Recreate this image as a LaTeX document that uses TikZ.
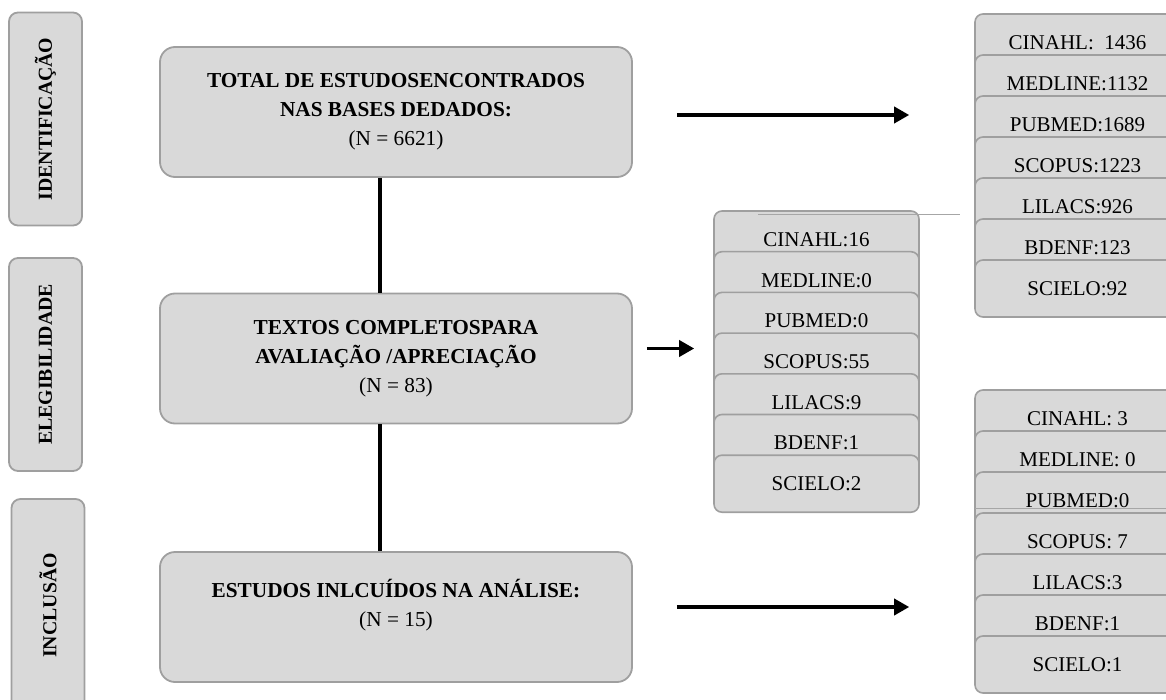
\documentclass[tikz,border=0pt]{standalone}
\usepackage{fontspec}
\setmainfont{Liberation Serif}
\usetikzlibrary{arrows.meta,positioning}

\begin{document}
\begin{tikzpicture}[x=1pt,y=-1pt]
      \tikzstyle{fase}=[rectangle,rounded corners=9pt,draw=gray!75,fill=gray!30,line width=1.8pt,
        minimum width=213pt,minimum height=73pt,rotate=90,font=\fontsize{19.8}{24}\selectfont\bfseries]
      \tikzstyle{etapa}=[rectangle,rounded corners=15pt,draw=gray!75,fill=gray!30,line width=1.8pt,
        minimum width=472pt,minimum height=130pt,align=center,font=\fontsize{21.3}{29}\selectfont]
      \tikzstyle{celula}=[rectangle,rounded corners=8pt,draw=gray!75,fill=gray!30,line width=1.6pt,
        minimum width=205pt,minimum height=57pt,font=\fontsize{21}{24}\selectfont]
      \tikzstyle{liga}=[line width=3.5pt]
      \tikzstyle{seta}=[line width=3.5pt,-{Triangle[length=15pt,width=16pt]}]
      \tikzstyle{fino}=[line width=0.8pt,draw=gray!70]

      \useasboundingbox (0,0) rectangle (1166,700);
      \clip (0,0) rectangle (1166,700);

      % fases
      \node[fase](f1) at (45.5,119) {IDENTIFICAÇÃO};
      \node[fase](f2) at (45.5,364.5) {ELEGIBILIDADE};
      \node[fase](f3) at (48,605.5) {INCLUSÃO};

      % etapas
      \node[etapa](a) at (396,112) {\textbf{TOTAL DE ESTUDOSENCONTRADOS}\\
        \textbf{NAS BASES DEDADOS:}\\(N = 6621)};
      \node[etapa](b) at (396,358.5) {\textbf{TEXTOS COMPLETOSPARA}\\
        \textbf{AVALIAÇÃO /APRECIAÇÃO}\\(N = 83)};
      \node[etapa](c) at (396,617) {\textbf{ESTUDOS INLCUÍDOS NA ANÁLISE:}\\
        (N = 15)\\[0pt]~};

      \draw[liga] ([xshift=-16pt]a.south) -- ([xshift=-16pt]b.north);
      \draw[liga] ([xshift=-16pt]b.south) -- ([xshift=-16pt]c.north);

      % bases - identificacao
      \begin{scope}[node distance=41pt]
        \node[celula](t1) at (1077.5,42.5) {CINAHL:~~1436};
        \node[celula](t2)[below of=t1]{MEDLINE:1132};
        \node[celula](t3)[below of=t2]{PUBMED:1689};
        \node[celula](t4)[below of=t3]{SCOPUS:1223};
        \node[celula](t5)[below of=t4]{LILACS:926};
        \node[celula](t6)[below of=t5]{BDENF:123};
        \node[celula](t7)[below of=t6]{SCIELO:92};
      \end{scope}

      % bases - elegibilidade
      \begin{scope}[node distance=40.7pt]
        \node[celula](m1) at (816.5,239.5) {CINAHL:16};
        \node[celula](m2)[below of=m1]{MEDLINE:0};
        \node[celula](m3)[below of=m2]{PUBMED:0};
        \node[celula](m4)[below of=m3]{SCOPUS:55};
        \node[celula](m5)[below of=m4]{LILACS:9};
        \node[celula](m6)[below of=m5]{BDENF:1};
        \node[celula](m7)[below of=m6]{SCIELO:2};
      \end{scope}
      \draw[fino] (758,214) -- (960,214);

      % bases - inclusao
      \begin{scope}[node distance=41pt]
        \node[celula](i1) at (1077.5,418.5) {CINAHL: 3};
        \node[celula](i2)[below of=i1]{MEDLINE: 0};
        \node[celula](i3)[below of=i2]{PUBMED:0};
        \node[celula](i4)[below of=i3]{SCOPUS: 7};
        \node[celula](i5)[below of=i4]{LILACS:3};
        \node[celula](i6)[below of=i5]{BDENF:1};
        \node[celula](i7)[below of=i6]{SCIELO:1};
      \end{scope}
      \draw[fino] (975,508) -- (1166,508);

      \draw[seta] ([xshift=44pt,yshift=-3pt]a.east) -- ([xshift=-65pt,yshift=-3pt]a.east -| t3.west);
      \draw[seta] ([xshift=14pt,yshift=10pt]b.east) -- ([xshift=-19pt,yshift=10pt]b.east -| m1.west);
      \draw[seta] ([xshift=44pt,yshift=10pt]c.east) -- ([xshift=-65pt,yshift=10pt]c.east -| i1.west);
\end{tikzpicture}
\end{document}
